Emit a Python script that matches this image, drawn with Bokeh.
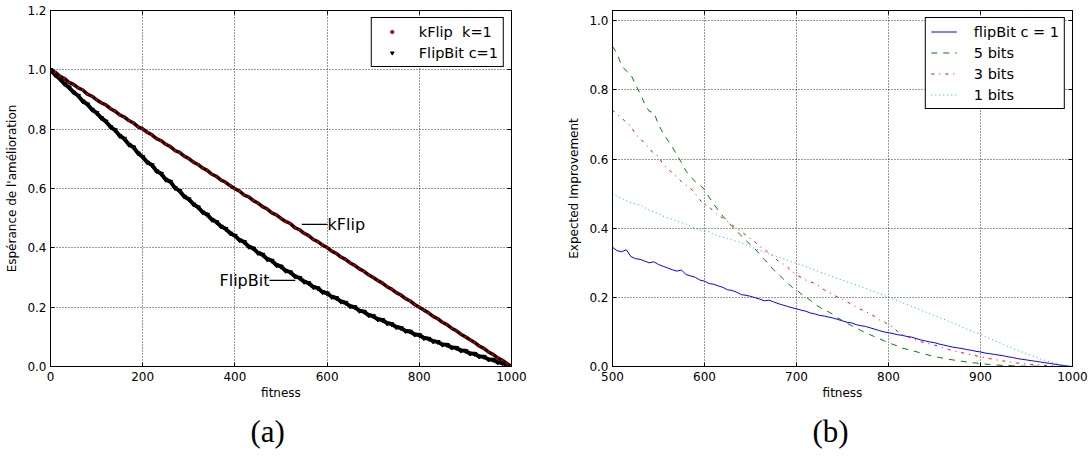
from bokeh.plotting import figure
from bokeh.layouts import row
from bokeh.models import (Range1d, FixedTicker, LinearAxis, Legend, LegendItem, Title)
from bokeh.core.properties import value
from bokeh.embed import file_html
from bokeh.resources import INLINE

# ---------------- data: panel (a) ----------------
fit_a = list(range(0, 1001, 10))
kflip = [
    1.000, 0.992, 0.979, 0.971, 0.958, 0.951, 0.939, 0.932, 0.918, 0.911,
    0.899, 0.889, 0.882, 0.869, 0.861, 0.848, 0.841, 0.829, 0.821, 0.808,
    0.801, 0.789, 0.781, 0.768, 0.761, 0.749, 0.741, 0.728, 0.722, 0.709,
    0.701, 0.689, 0.681, 0.669, 0.661, 0.648, 0.641, 0.628, 0.621, 0.609,
    0.599, 0.591, 0.578, 0.572, 0.559, 0.551, 0.539, 0.531, 0.518, 0.511,
    0.499, 0.489, 0.482, 0.468, 0.461, 0.449, 0.441, 0.428, 0.421, 0.409,
    0.401, 0.389, 0.381, 0.369, 0.361, 0.349, 0.341, 0.329, 0.321, 0.309,
    0.300, 0.290, 0.281, 0.269, 0.261, 0.249, 0.241, 0.229, 0.221, 0.209,
    0.200, 0.190, 0.181, 0.169, 0.161, 0.149, 0.141, 0.129, 0.121, 0.109,
    0.100, 0.090, 0.081, 0.069, 0.061, 0.049, 0.041, 0.029, 0.021, 0.010,
    0.000]
flipbit = [
    1.000, 0.983, 0.970, 0.953, 0.941, 0.924, 0.913, 0.894, 0.884, 0.866,
    0.855, 0.838, 0.826, 0.808, 0.797, 0.778, 0.768, 0.748, 0.739, 0.719,
    0.706, 0.688, 0.679, 0.659, 0.650, 0.630, 0.623, 0.602, 0.592, 0.573,
    0.564, 0.547, 0.537, 0.520, 0.512, 0.495, 0.487, 0.472, 0.464, 0.449,
    0.441, 0.426, 0.420, 0.404, 0.398, 0.383, 0.377, 0.362, 0.357, 0.342,
    0.337, 0.323, 0.318, 0.304, 0.299, 0.286, 0.281, 0.268, 0.264, 0.251,
    0.247, 0.235, 0.231, 0.219, 0.215, 0.203, 0.200, 0.188, 0.185, 0.173,
    0.170, 0.159, 0.157, 0.146, 0.143, 0.133, 0.130, 0.120, 0.118, 0.108,
    0.106, 0.096, 0.094, 0.085, 0.083, 0.074, 0.073, 0.064, 0.063, 0.054,
    0.053, 0.044, 0.043, 0.034, 0.033, 0.024, 0.023, 0.014, 0.012, 0.005,
    0.000]
a_xticks = [0, 200, 400, 600, 800, 1000]
a_xlabels = ["0", "200", "400", "600", "800", "1000"]
a_yticks = [0.0, 0.2, 0.4, 0.6, 0.8, 1.0, 1.2]
a_ylabels = ["0.0", "0.2", "0.4", "0.6", "0.8", "1.0", "1.2"]
a_labels = ["kFlip  k=1", "FlipBit c=1"]
# annotations: text, point xy, text position
note_text = ["kFlip", "FlipBit"]
note_x = [545, 531]
note_y = [0.479, 0.290]
note_tx = [601, 475]
note_ty = [0.479, 0.290]

# ---------------- data: panel (b) ----------------
fit_b = list(range(500, 1001, 5))
c1 = [
    0.345, 0.335, 0.332, 0.338, 0.318, 0.312, 0.310, 0.305, 0.300, 0.303,
    0.295, 0.290, 0.285, 0.280, 0.276, 0.279, 0.266, 0.262, 0.258, 0.250,
    0.247, 0.240, 0.238, 0.233, 0.229, 0.222, 0.220, 0.215, 0.208, 0.206,
    0.203, 0.199, 0.195, 0.190, 0.192, 0.187, 0.182, 0.178, 0.174, 0.170,
    0.167, 0.163, 0.160, 0.155, 0.152, 0.148, 0.146, 0.143, 0.140, 0.136,
    0.132, 0.128, 0.126, 0.121, 0.118, 0.116, 0.112, 0.108, 0.104, 0.100,
    0.098, 0.095, 0.092, 0.090, 0.087, 0.085, 0.081, 0.077, 0.074, 0.071,
    0.069, 0.065, 0.062, 0.059, 0.056, 0.054, 0.052, 0.049, 0.047, 0.044,
    0.042, 0.039, 0.037, 0.035, 0.033, 0.031, 0.028, 0.026, 0.023, 0.021,
    0.019, 0.017, 0.015, 0.013, 0.011, 0.009, 0.007, 0.005, 0.003, 0.001,
    0.000]
bits5 = [
    0.926, 0.905, 0.870, 0.855, 0.845, 0.815, 0.790, 0.760, 0.738, 0.735,
    0.700, 0.675, 0.655, 0.635, 0.612, 0.590, 0.565, 0.548, 0.535, 0.525,
    0.512, 0.490, 0.470, 0.452, 0.435, 0.420, 0.405, 0.392, 0.378, 0.365,
    0.352, 0.340, 0.325, 0.310, 0.295, 0.280, 0.268, 0.255, 0.242, 0.230,
    0.222, 0.210, 0.200, 0.192, 0.180, 0.172, 0.163, 0.158, 0.150, 0.140,
    0.133, 0.125, 0.118, 0.112, 0.104, 0.098, 0.092, 0.086, 0.080, 0.075,
    0.068, 0.064, 0.059, 0.053, 0.050, 0.046, 0.043, 0.039, 0.036, 0.032,
    0.029, 0.026, 0.024, 0.021, 0.019, 0.017, 0.015, 0.013, 0.011, 0.010,
    0.009, 0.007, 0.006, 0.005, 0.004, 0.003, 0.003, 0.002, 0.002, 0.001,
    0.001, 0.001, 0.001, 0.000, 0.000, 0.000, 0.000, 0.000, 0.000, 0.000,
    0.000]
bits3 = [
    0.742, 0.728, 0.720, 0.705, 0.695, 0.672, 0.660, 0.645, 0.632, 0.615,
    0.608, 0.585, 0.572, 0.560, 0.548, 0.535, 0.525, 0.515, 0.500, 0.482,
    0.468, 0.463, 0.448, 0.437, 0.430, 0.420, 0.410, 0.398, 0.390, 0.380,
    0.370, 0.360, 0.347, 0.340, 0.328, 0.318, 0.305, 0.298, 0.288, 0.275,
    0.265, 0.258, 0.250, 0.245, 0.240, 0.232, 0.222, 0.215, 0.208, 0.200,
    0.195, 0.187, 0.180, 0.172, 0.165, 0.160, 0.152, 0.145, 0.135, 0.130,
    0.120, 0.115, 0.100, 0.092, 0.087, 0.082, 0.077, 0.072, 0.068, 0.065,
    0.062, 0.058, 0.053, 0.049, 0.046, 0.043, 0.040, 0.037, 0.034, 0.031,
    0.028, 0.025, 0.023, 0.020, 0.018, 0.016, 0.014, 0.012, 0.010, 0.009,
    0.007, 0.006, 0.005, 0.004, 0.003, 0.002, 0.002, 0.001, 0.001, 0.000,
    0.000]
bits1 = [
    0.502, 0.492, 0.487, 0.480, 0.474, 0.470, 0.467, 0.460, 0.452, 0.447,
    0.442, 0.435, 0.430, 0.426, 0.420, 0.417, 0.412, 0.405, 0.400, 0.395,
    0.393, 0.390, 0.382, 0.378, 0.374, 0.370, 0.366, 0.362, 0.358, 0.352,
    0.346, 0.341, 0.336, 0.332, 0.327, 0.322, 0.317, 0.313, 0.308, 0.302,
    0.298, 0.294, 0.289, 0.284, 0.279, 0.274, 0.269, 0.264, 0.259, 0.254,
    0.250, 0.245, 0.240, 0.236, 0.231, 0.226, 0.221, 0.216, 0.211, 0.206,
    0.200, 0.195, 0.190, 0.184, 0.179, 0.174, 0.169, 0.163, 0.158, 0.152,
    0.147, 0.142, 0.137, 0.131, 0.126, 0.120, 0.114, 0.108, 0.103, 0.098,
    0.093, 0.087, 0.081, 0.075, 0.070, 0.064, 0.058, 0.052, 0.047, 0.042,
    0.037, 0.032, 0.027, 0.022, 0.018, 0.014, 0.010, 0.007, 0.004, 0.002,
    0.000]
b_xticks = [500, 600, 700, 800, 900, 1000]
b_xlabels = ["500", "600", "700", "800", "900", "1000"]
b_yticks = [0.0, 0.2, 0.4, 0.6, 0.8, 1.0]
b_ylabels = ["0.0", "0.2", "0.4", "0.6", "0.8", "1.0"]
b_labels = ["flipBit c = 1", "5 bits", "3 bits", "1 bits"]

FONT = "DejaVu Sans"


def style(p, xticks, xlabels, yticks, ylabels, xlabel, ylabel):
    p.background_fill_color = "white"
    p.border_fill_color = "white"
    p.outline_line_color = "black"
    p.outline_line_width = 1
    for ax, ticks, labels in ((p.xaxis[0], xticks, xlabels), (p.yaxis[0], yticks, ylabels)):
        ax.ticker = FixedTicker(ticks=ticks)
        ax.major_label_overrides = {t: l for t, l in zip(ticks, labels)}
        ax.major_label_text_font = FONT
        ax.major_label_text_font_size = "12px"
        ax.major_label_text_color = "black"
        ax.major_tick_in = 4
        ax.major_tick_out = 0
        ax.minor_tick_in = 0
        ax.minor_tick_out = 0
        ax.axis_line_color = "black"
        ax.major_tick_line_color = "black"
        ax.axis_label_text_font = FONT
        ax.axis_label_text_font_size = "12px"
        ax.axis_label_text_font_style = "normal"
        ax.axis_label_text_color = "black"
    p.xaxis[0].axis_label = xlabel
    p.yaxis[0].axis_label = ylabel
    p.xaxis[0].major_label_standoff = 5
    p.xaxis[0].axis_label_standoff = 2
    p.yaxis[0].major_label_standoff = 4
    p.yaxis[0].axis_label_standoff = 5
    for loc, ticks in (("above", xticks), ("right", yticks)):
        ax = LinearAxis(ticker=FixedTicker(ticks=ticks), major_label_text_font_size="0px",
                        major_label_standoff=0, major_tick_in=4, major_tick_out=0,
                        minor_tick_in=0, minor_tick_out=0, axis_line_color="black")
        ax.major_label_overrides = {t: "" for t in ticks}
        p.add_layout(ax, loc)
    for g, ticks in ((p.xgrid[0], xticks), (p.ygrid[0], yticks)):
        g.grid_line_color = "black"
        g.grid_line_alpha = 0.8
        g.grid_line_dash = "1 2"
        g.grid_line_width = 1
        g.ticker = FixedTicker(ticks=ticks)


H = 459
TOP = 10
FRAME_H = 356

# ---------------- panel (a) ----------------
pa = figure(width=545, height=H, output_backend="svg", toolbar_location=None,
            x_range=Range1d(0, 1000), y_range=Range1d(0, 1.2),
            min_border_left=50, min_border_right=34, min_border_top=TOP,
            min_border_bottom=H - TOP - FRAME_H)
style(pa, a_xticks, a_xlabels, a_yticks, a_ylabels, "fitness", "Espérance de l'amélioration")

pa.line(fit_a, flipbit, line_color="black", line_width=4)
r_fb = pa.scatter(fit_a, flipbit, marker="inverted_triangle", size=4.5,
                  fill_color="black", line_color="black")
pa.line(fit_a, kflip, line_color="#200000", line_width=3.5)
r_kf = pa.scatter(fit_a, kflip, marker="circle", size=2.2,
                  fill_color="#c80000", line_color="#8a0000", line_width=0.5)

pa.segment(x0=note_x, y0=note_y, x1=note_tx, y1=note_ty, line_color="black", line_width=1.2)
pa.text(x=[note_tx[0]], y=[note_ty[0]], text=[note_text[0]], text_align="left",
        text_baseline="middle", text_font=value(FONT), text_font_size="16px", text_color="black")
pa.text(x=[note_tx[1]], y=[note_ty[1]], text=[note_text[1]], text_align="right",
        text_baseline="middle", text_font=value(FONT), text_font_size="16px", text_color="black")

leg_a = Legend(items=[LegendItem(label=a_labels[0], renderers=[r_kf]),
                      LegendItem(label=a_labels[1], renderers=[r_fb])],
               location="top_right")
pa.add_layout(leg_a)

# ---------------- panel (b) ----------------
pb = figure(width=546, height=H, output_backend="svg", toolbar_location=None,
            x_range=Range1d(500, 1000), y_range=Range1d(0, 1.03),
            min_border_left=67, min_border_right=19, min_border_top=TOP,
            min_border_bottom=H - TOP - FRAME_H)
style(pb, b_xticks, b_xlabels, b_yticks, b_ylabels, "fitness", "Expected Improvement")

r1 = pb.line(fit_b, c1, line_color="#0000ff", line_width=1)
r2 = pb.line(fit_b, bits5, line_color="#008000", line_width=1, line_dash="6 6")
r3 = pb.line(fit_b, bits3, line_color="#ff0000", line_width=1, line_dash="3 5 1 5")
r4 = pb.line(fit_b, bits1, line_color="#00bfbf", line_width=1, line_dash="1 3")

leg_b = Legend(items=[LegendItem(label=b_labels[0], renderers=[r1]),
                      LegendItem(label=b_labels[1], renderers=[r2]),
                      LegendItem(label=b_labels[2], renderers=[r3]),
                      LegendItem(label=b_labels[3], renderers=[r4])],
               location="top_right")
pb.add_layout(leg_b)

for leg in (leg_a, leg_b):
    leg.margin = 7
    leg.padding = 5
    leg.spacing = 4
    leg.label_height = 17
    leg.label_text_font = FONT
    leg.label_text_font_size = "14.5px"
    leg.label_text_color = "black"
    leg.border_line_color = "black"
    leg.border_line_width = 1
    leg.border_line_alpha = 1
    leg.background_fill_color = "white"
    leg.background_fill_alpha = 1
leg_a.glyph_width = 30
leg_a.glyph_height = 9
leg_a.label_standoff = 12
leg_b.glyph_width = 26
leg_b.glyph_height = 17
leg_b.label_standoff = 17

for p, cap in ((pa, "(a)"), (pb, "(b)")):
    t = Title(text=cap, align="left", offset=200, text_font="Liberation Serif",
              text_font_size="31px", text_font_style="normal", text_color="black",
              standoff=18)
    p.add_layout(t, "below")

layout = row(pa, pb)
open("out.html", "w").write(file_html(layout, INLINE))
